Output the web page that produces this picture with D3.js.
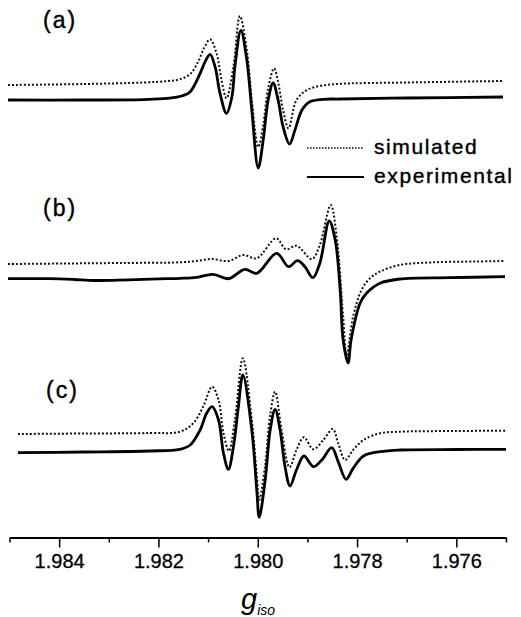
<!DOCTYPE html>
<html>
<head>
<meta charset="utf-8">
<script src="https://cdn.jsdelivr.net/npm/d3@7"></script>
<style>
	body { margin: 0; background: #fff; }
	svg { display: block; font-family: 'Liberation Sans', Arial, sans-serif; }
</style>
</head>
<body>
<svg id="viz" width="521" height="617"></svg>
<script>
// spectra: [g, intensity (a.u.)]
let simA = [
	[1.98503, 15], [1.98350, 16], [1.98230, 17.5], [1.98180, 19], [1.98157, 20.7], [1.98136, 26], [1.98120, 38.3],
	[1.98108, 52], [1.98096, 60.7], [1.98083, 46.7], [1.98073, 20], [1.98063, 1.7], [1.98049, 33.3],
	[1.98036, 84], [1.98022, 50], [1.98012, 0], [1.97999, -47], [1.97989, -25], [1.97979, 12],
	[1.97967, 31.7], [1.97959, 18], [1.97949, -10], [1.97938, -28.3], [1.97922, 0], [1.97901, 10],
	[1.97875, 14], [1.97841, 16], [1.97700, 17.5], [1.97506, 19]
]
let expA = [
	[1.98503, 0], [1.98350, 0], [1.98230, 0.3], [1.98190, 1.3], [1.98170, 2.3], [1.98150, 4.5], [1.98136, 8.3], [1.98116, 26.7],
	[1.98106, 38.3], [1.98096, 45.7], [1.98086, 33.3], [1.98076, 6.7], [1.98063, -13.3], [1.98052, 3.3],
	[1.98046, 33.3], [1.98034, 69.5], [1.98022, 40], [1.98012, -10], [1.97999, -68], [1.97989, -40],
	[1.97979, 0], [1.97969, 17], [1.97959, 0], [1.97949, -26.7], [1.97936, -44], [1.97925, -30],
	[1.97911, -10], [1.97895, -1.7], [1.97868, 0.7], [1.97834, 1], [1.97700, 2], [1.97506, 3]
]
let simB = [
	[1.98503, 15], [1.98390, 15.5], [1.98277, 16], [1.98157, 16.7], [1.98123, 18], [1.98093, 20], [1.98059, 18],
	[1.98029, 24], [1.98002, 20.7], [1.97963, 40.7], [1.97943, 29.7], [1.97922, 33.3], [1.97891, 20],
	[1.97875, 34], [1.97853, 74], [1.97841, 42.3], [1.97828, -37.7], [1.97821, -76], [1.97808, -37.7],
	[1.97791, -11], [1.97774, 0.7], [1.97754, 7.3], [1.97714, 14], [1.97646, 16.7], [1.97560, 17.5], [1.97502, 18]
]
let expB = [
	[1.98503, 0.3], [1.98420, 0.3], [1.98370, -0.5], [1.98330, -1.5], [1.98260, -0.8], [1.98183, 0.3], [1.98157, 0.7], [1.98123, 1.7],
	[1.98090, 4.7], [1.98059, 0.3], [1.98026, 9.7], [1.98002, 5.7], [1.97962, 25.7], [1.97938, 12.3],
	[1.97920, 18.3], [1.97905, 12.3], [1.97889, 1.3], [1.97875, 15.7], [1.97856, 58], [1.97844, 39],
	[1.97834, -11], [1.97828, -61], [1.97818, -84], [1.97812, -61], [1.97794, -24.3], [1.97781, -14.3],
	[1.97754, -4.3], [1.97714, 0], [1.97613, 1.3], [1.97502, 2.3]
]
let simC = [
	[1.98483, 19], [1.98350, 19.5], [1.98217, 20], [1.98157, 21.3], [1.98130, 29.7], [1.98110, 46.3], [1.98092, 66.3],
	[1.98079, 53], [1.98069, 19.7], [1.98058, 2], [1.98046, 33], [1.98030, 94.7], [1.98012, 33],
	[1.98002, -22], [1.97997, -47], [1.97985, -12], [1.97975, 38], [1.97965, 61.3], [1.97952, 23],
	[1.97936, -14.3], [1.97922, 3], [1.97907, 15.7], [1.97888, 3.7], [1.97868, 13], [1.97849, 24],
	[1.97838, 9.7], [1.97824, -7], [1.97808, 3], [1.97787, 13], [1.97754, 19.7], [1.97714, 21.3],
	[1.97600, 22], [1.97500, 22.3]
]
let expC = [
	[1.98483, 0.3], [1.98350, 1], [1.98217, 2], [1.98157, 3.7], [1.98136, 8], [1.98116, 23], [1.98103, 39.7],
	[1.98092, 46.3], [1.98079, 33], [1.98069, -0.3], [1.98059, -16.3], [1.98049, 6.3], [1.98039, 46.3],
	[1.98030, 78], [1.98012, 23], [1.98002, -37], [1.97997, -64.3], [1.97985, -27], [1.97975, 23],
	[1.97965, 43.7], [1.97955, 23], [1.97945, -13.7], [1.97935, -33], [1.97922, -17], [1.97907, -3],
	[1.97888, -13.7], [1.97871, -7], [1.97851, 5.3], [1.97838, -8.7], [1.97822, -26.3], [1.97808, -15.3],
	[1.97787, -3], [1.97754, 1.3], [1.97714, 3], [1.97600, 3.5], [1.97500, 3.7]
]

let majorTicks = [1.984, 1.982, 1.980, 1.978, 1.976]
let minorTicks = [1.985, 1.983, 1.981, 1.979, 1.977, 1.975]
let panelNames = ['(a)', '(b)', '(c)']
let seriesNames = ['simulated', 'experimental']

let svg = d3.select('#viz')

let x = d3.scaleLinear()
	.domain([1.985, 1.975])
	.range([9.5, 506])

// baseline of each panel in pixels
let panels = [
	{label: panelNames[0], sim: simA, exp: expA, base: 100, lx: 43, ly: 28},
	{label: panelNames[1], sim: simB, exp: expB, base: 279, lx: 43, ly: 216},
	{label: panelNames[2], sim: simC, exp: expC, base: 453, lx: 46, ly: 398}
]

panels.forEach(p => {
	let y = d3.scaleLinear().domain([-100, 100]).range([p.base + 100, p.base - 100])
	let line = d3.line()
		.x(d => x(d[0]))
		.y(d => y(d[1]))
		.curve(d3.curveCatmullRom.alpha(0.5))

	svg.append('path')
		.attr('d', line(p.sim))
		.attr('fill', 'none')
		.attr('stroke', '#111')
		.attr('stroke-width', 2)
		.attr('stroke-dasharray', '2,2')

	svg.append('path')
		.attr('d', line(p.exp))
		.attr('fill', 'none')
		.attr('stroke', '#000')
		.attr('stroke-width', 2.8)

	svg.append('text')
		.attr('x', p.lx)
		.attr('y', p.ly)
		.attr('font-size', 23)
		.attr('letter-spacing', 2)
		.attr('stroke', '#000')
		.attr('stroke-width', 0.4)
		.text(p.label)
})

// legend
let legend = svg.append('g')
seriesNames.forEach((name, i) => {
	let ly = 148 + i * 29
	legend.append('line')
		.attr('x1', 307).attr('x2', 364)
		.attr('y1', ly).attr('y2', ly)
		.attr('stroke', '#000')
		.attr('stroke-width', i == 0 ? 1.5 : 2)
		.attr('stroke-dasharray', i == 0 ? '1.5,1.5' : null)
	legend.append('text')
		.attr('x', 374)
		.attr('y', ly + 6)
		.attr('font-size', 21)
		.attr('letter-spacing', 1.6)
		.attr('stroke', '#000')
		.attr('stroke-width', 0.4)
		.text(name)
})

// axis
let axisY = 537.5
svg.append('g')
	.attr('transform', `translate(0,${axisY})`)
	.call(d3.axisBottom(x).tickValues(minorTicks).tickSize(5).tickFormat(''))
	.call(g => g.select('.domain').remove())
	.call(g => g.selectAll('line').attr('stroke-width', 1.5))

svg.append('g')
	.attr('transform', `translate(0,${axisY})`)
	.call(d3.axisBottom(x).tickValues(majorTicks).tickSize(10).tickSizeOuter(0).tickPadding(6).tickFormat(d3.format('.3f')))
	.call(g => g.select('.domain').attr('stroke-width', 2))
	.call(g => g.selectAll('line').attr('stroke-width', 1.5))
	.call(g => g.selectAll('text')
		.attr('font-size', 20)
		.attr('font-family', "'Liberation Sans', Arial, sans-serif")
		.attr('fill', '#000')
		.attr('stroke', '#000')
		.attr('stroke-width', 0.3))

let xl = svg.append('text')
	.attr('x', 241)
	.attr('y', 609)
	.attr('font-style', 'italic')
	.attr('font-size', 29)
xl.append('tspan').text('g')
xl.append('tspan')
	.attr('font-size', 14)
	.attr('dy', 6)
	.text('iso')
</script>
</body>
</html>
